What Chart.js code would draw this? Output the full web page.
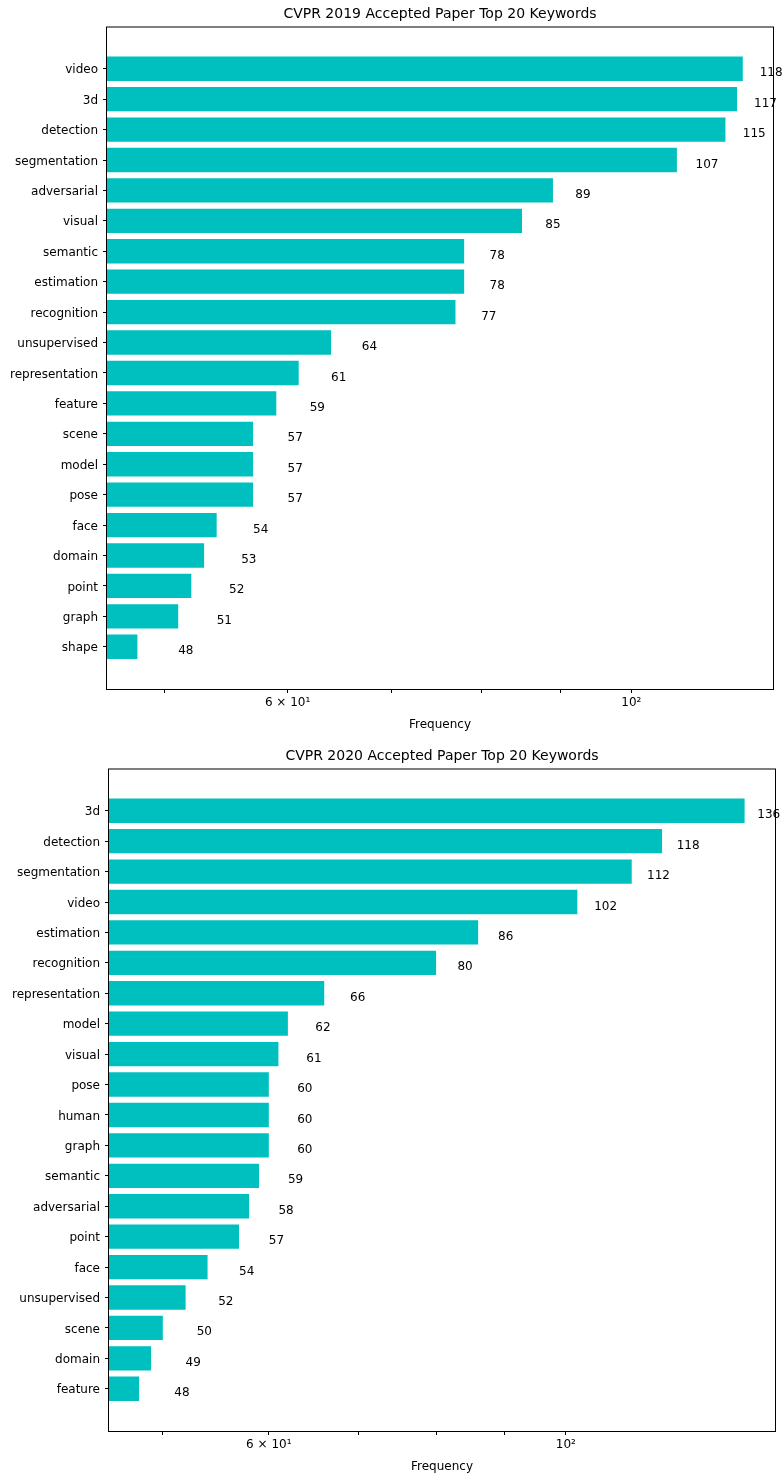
<!DOCTYPE html>
<html>
<head>
<meta charset="utf-8">
<script src="https://cdn.jsdelivr.net/npm/chart.js@4.4.0/dist/chart.umd.min.js"></script>
<style>
  html, body { margin: 0; padding: 0; background: #fff; overflow: hidden; }
  body { width: 784px; height: 1477px; position: relative; }
  canvas { position: absolute; left: 0; }
</style>
</head>
<body>
<canvas id="chart2019" width="784" height="742" style="top:0px"></canvas>
<canvas id="chart2020" width="784" height="742" style="top:742px"></canvas>
<script>
// data
const keywords2019 = ['video', '3d', 'detection', 'segmentation', 'adversarial', 'visual', 'semantic',
  'estimation', 'recognition', 'unsupervised', 'representation', 'feature', 'scene', 'model',
  'pose', 'face', 'domain', 'point', 'graph', 'shape'];
const counts2019 = [118, 117, 115, 107, 89, 85, 78, 78, 77, 64, 61, 59, 57, 57, 57, 54, 53, 52, 51, 48];

const keywords2020 = ['3d', 'detection', 'segmentation', 'video', 'estimation', 'recognition',
  'representation', 'model', 'visual', 'pose', 'human', 'graph', 'semantic', 'adversarial',
  'point', 'face', 'unsupervised', 'scene', 'domain', 'feature'];
const counts2020 = [136, 118, 112, 102, 86, 80, 66, 62, 61, 60, 60, 60, 59, 58, 57, 54, 52, 50, 49, 48];

const xTicks = [50, 60, 70, 80, 90, 100];
const xTickLabels = { 60: '6 × 10¹', 100: '10²' };

Chart.defaults.font.family = "'DejaVu Sans', sans-serif";
Chart.defaults.font.size = 12;
Chart.defaults.color = '#000';

function makeChart(id, title, keywords, counts, xMin, xMax, axisWidth, rightPad) {
  const n = keywords.length;

  // value text next to each bar, at value + 3 and a quarter step below the centre
  const valueLabels = {
    id: 'valueLabels',
    afterDatasetsDraw(chart) {
      const ctx = chart.ctx;
      const xs = chart.scales.x, ys = chart.scales.y;
      ctx.save();
      ctx.font = "12px 'DejaVu Sans'";
      ctx.fillStyle = '#000';
      ctx.textAlign = 'left';
      ctx.textBaseline = 'alphabetic';
      counts.forEach((v, i) => {
        ctx.fillText(String(v), xs.getPixelForValue(v + 3), ys.getPixelForValue(i + 0.25));
      });
      ctx.restore();
    }
  };

  // full box around the axes
  const frame = {
    id: 'frame',
    afterDraw(chart) {
      const a = chart.chartArea, ctx = chart.ctx;
      ctx.save();
      ctx.strokeStyle = '#000';
      ctx.lineWidth = 1;
      ctx.strokeRect(a.left - 0.5, a.top + 0.5, a.right - a.left + 1, a.bottom - a.top);
      ctx.restore();
    }
  };

  return new Chart(document.getElementById(id), {
    type: 'bar',
    data: {
      datasets: [{
        data: counts.map((v, i) => ({ x: v, y: i })),
        backgroundColor: '#00bfbf',
        borderWidth: 0,
        barPercentage: 0.8,
        categoryPercentage: 1.0
      }]
    },
    options: {
      indexAxis: 'y',
      responsive: false,
      animation: false,
      layout: { padding: { left: 0, right: rightPad, top: 0, bottom: 0 } },
      plugins: {
        legend: { display: false },
        tooltip: { enabled: false },
        title: {
          display: true,
          text: title,
          fullSize: false,
          font: { size: 14, weight: 'normal' },
          color: '#000',
          padding: { top: 5.6, bottom: 4.1 }
        }
      },
      scales: {
        x: {
          type: 'logarithmic',
          min: xMin,
          max: xMax,
          afterBuildTicks: (scale) => { scale.ticks = xTicks.map(v => ({ value: v })); },
          afterFit: (scale) => { scale.height = 53; },
          ticks: {
            autoSkip: false,
            maxRotation: 0,
            padding: 3,
            callback: (v) => xTickLabels[v] || ''
          },
          grid: { display: true, drawOnChartArea: false, drawTicks: true, tickLength: 4, color: '#000' },
          border: { display: false },
          title: { display: true, text: 'Frequency', font: { size: 12 }, padding: { top: 0, bottom: 10 } }
        },
        y: {
          type: 'linear',
          reverse: true,
          offset: false,
          min: -1.39,
          max: n - 1 + 1.39,
          afterBuildTicks: (scale) => { scale.ticks = keywords.map((k, i) => ({ value: i })); },
          afterFit: (scale) => { scale.width = axisWidth; },
          ticks: {
            autoSkip: false,
            padding: 5,
            labelOffset: 1.5,
            callback: (v) => keywords[v]
          },
          grid: { display: true, offset: false, drawOnChartArea: false, drawTicks: true, tickLength: 4, color: '#000' },
          border: { display: false }
        }
      }
    },
    plugins: [valueLabels, frame]
  });
}

makeChart('chart2019', 'CVPR 2019 Accepted Paper Top 20 Keywords', keywords2019, counts2019, 45.88, 123.42, 107, 11);
makeChart('chart2020', 'CVPR 2020 Accepted Paper Top 20 Keywords', keywords2020, counts2020, 45.58, 143.3, 109, 9);
</script>
</body>
</html>
